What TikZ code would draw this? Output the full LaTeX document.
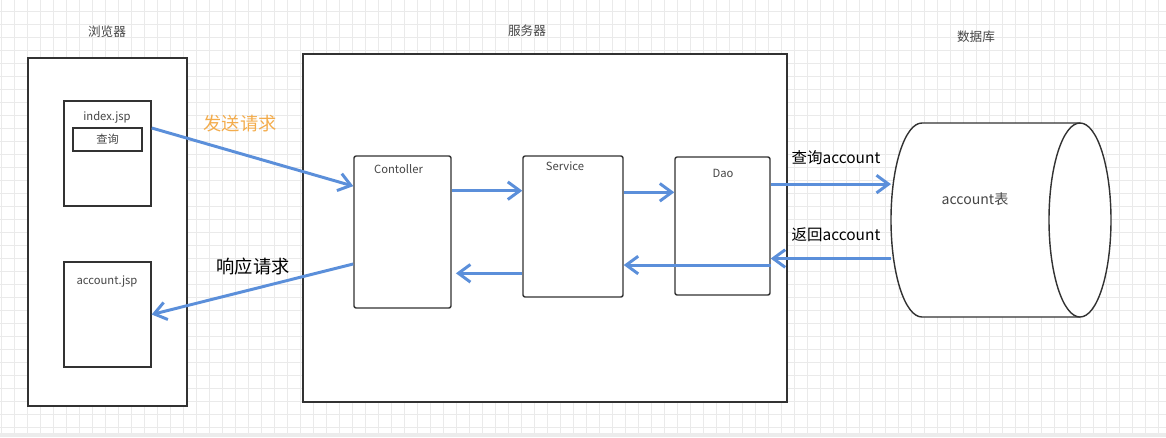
\documentclass[tikz,border=0pt]{standalone}
\usepackage{fontspec}
\setmainfont{Noto Sans CJK SC}
\usetikzlibrary{positioning,arrows.meta}

\definecolor{flowblue}{RGB}{91,143,218}
\definecolor{sendorange}{RGB}{243,172,76}
\definecolor{edgegray}{RGB}{50,50,50}
\definecolor{textgray}{RGB}{70,70,70}
\definecolor{gridgray}{RGB}{234,234,234}
\newcommand{\pxl}{0.025cm}

\tikzset{
    panel/.style={draw=edgegray, line width=1pt, fill=white, inner sep=0pt},
    layer/.style={panel, rounded corners=1.5pt},
    tag/.style={text=textgray, inner sep=1pt, font=\fontsize{8}{9}\selectfont},
    caption/.style={text=textgray, inner sep=1pt, font=\fontsize{9}{10}\selectfont},
    note/.style={inner sep=1pt, font=\fontsize{11}{12}\selectfont},
    bignote/.style={inner sep=1pt, font=\fontsize{13}{14}\selectfont},
    flow/.style={draw=flowblue, line width=2.1pt, ->},
    gridline/.style={draw=gridgray, line width=0.4pt}
}

\begin{document}
\begin{tikzpicture}[x=0.025cm, y=-0.025cm, >={Straight Barb[length=3mm, width=4.4mm]}]
    \useasboundingbox (0,0) rectangle (1166,437);

    % background grid
    \foreach \gx in {1,14,...,1166} {
        \draw[gridline] (\gx,0) -- (\gx,433);
    }
    \foreach \gy in {11,24,...,433} {
        \draw[gridline] (0,\gy) -- (1166,\gy);
    }
    \fill[gray!15] (0,433) rectangle (1166,437);

    % titles
    \node[caption] (browsertitle) at (107,32) {浏览器};
    \node[caption] (servertitle) at (527,31) {服务器};
    \node[caption] (dbtitle) at (976,37) {数据库};

    % browser side
    \node[panel, minimum width=159*\pxl, minimum height=348*\pxl] (browser) at (107.5,232) {};
    \node[panel, minimum width=87*\pxl, minimum height=105*\pxl] (index) at (107.5,153.5) {};
    \node[tag] (indextag) at (107,117) {index.jsp};
    \node[panel, minimum width=69*\pxl, minimum height=23*\pxl, tag] (query) at (107.5,139.5) {查询};
    \node[panel, minimum width=87*\pxl, minimum height=105*\pxl] (account) at (107.5,314.5) {};
    \node[tag] (accounttag) at (107,281) {account.jsp};

    % server side
    \node[panel, minimum width=484*\pxl, minimum height=348*\pxl] (server) at (545,228) {};
    \node[layer, minimum width=97*\pxl, minimum height=152*\pxl] (ctrl) at (402.5,232) {};
    \node[tag] (ctrltag) at (398.5,169) {Contoller};
    \node[layer, minimum width=100*\pxl, minimum height=141*\pxl] (svc) at (573,226.5) {};
    \node[tag] (svctag) at (565,166) {Service};
    \node[layer, minimum width=95*\pxl, minimum height=138*\pxl] (dao) at (722.5,226) {};
    \node[tag] (daotag) at (723,173) {Dao};

    % database (lying cylinder)
    \draw[edgegray, line width=1pt, fill=white] (1080,123) -- (922,123)
        arc[start angle=-90, end angle=-270, x radius=31, y radius=97] -- (1080,317);
    \draw[edgegray, line width=1pt, fill=white] (1080,220) ellipse [x radius=31, y radius=97];
    \coordinate (dbleft) at (891,220);
    \node[caption, font=\fontsize{10}{11}\selectfont] (dbtag) at (975,199) {account表};

    % request / response
    \draw[flow] (index.30) -- (ctrl.137);
    \node[bignote, text=sendorange] (sendtag) at (240,124) {发送请求};
    \draw[flow] (ctrl.213) -- (account.east);
    \node[bignote] (replytag) at (253,267) {响应请求};

    % inside the server
    \draw[flow] (ctrl.40) -- (ctrl.40 -| svc.west);
    \draw[flow] (svc.34) -- (svc.34 -| dao.west);
    \draw[flow] (dao.-39) -- (dao.-39 -| svc.east);
    \draw[flow, shorten >=3pt] (ctrl.-40 -| svc.west) -- (ctrl.-40);

    % to and from the database
    \draw[flow] (dao.41.5) -- (dao.41.5 -| dbleft);
    \node[note] (asktag) at (836,158) {查询account};
    \draw[flow] (dao.-34 -| dbleft) -- (dao.-34);
    \node[note] (backtag) at (836,235) {返回account};
\end{tikzpicture}
\end{document}
